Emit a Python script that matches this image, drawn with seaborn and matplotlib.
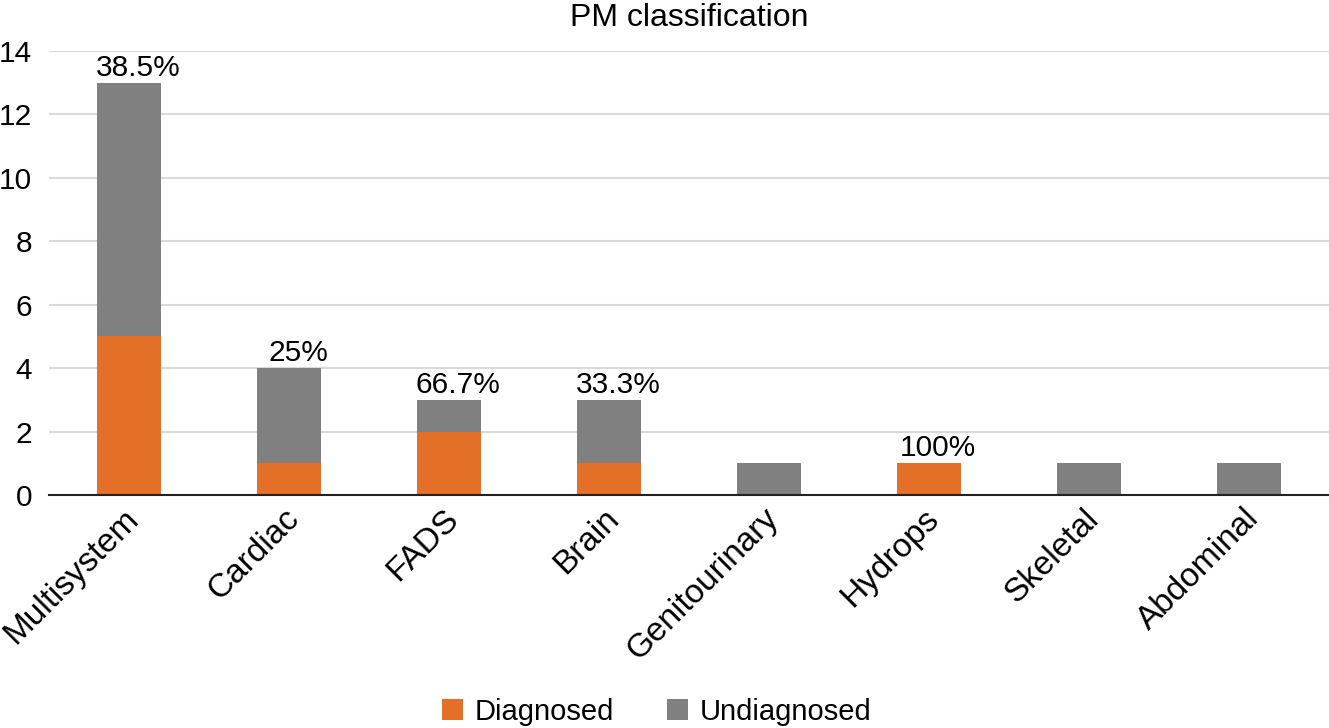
import matplotlib
matplotlib.use("Agg")
import matplotlib.pyplot as plt
import matplotlib.transforms as mtransforms
import seaborn as sns
import pandas as pd
import numpy as np

categories = ["Multisystem", "Cardiac", "FADS", "Brain", "Genitourinary", "Hydrops", "Skeletal", "Abdominal"]
diagnosed = [5, 1, 2, 1, 0, 1, 0, 0]
undiagnosed = [8, 3, 1, 2, 1, 0, 1, 1]
pct_labels = ["38.5%", "25%", "66.7%", "33.3%", "", "100%", "", ""]
yticks = [0, 2, 4, 6, 8, 10, 12, 14]

sns.set_theme(style="white")
plt.rcParams['font.family'] = ['Liberation Sans', 'DejaVu Sans']
plt.rcParams['text.color'] = 'black'

orange = "#E46F27"
gray = "#808080"

df = pd.DataFrame({"category": categories, "Diagnosed": diagnosed, "Undiagnosed": undiagnosed})
df["total"] = df["Diagnosed"] + df["Undiagnosed"]

fig = plt.figure(figsize=(13.29, 7.28), dpi=100)
ax = fig.add_axes([0.0369, 0.32, 0.9631, 0.61])

sns.barplot(data=df, x="category", y="total", color=gray, width=0.4, ax=ax,
            saturation=1, label="Undiagnosed", linewidth=0, edgecolor="none")
sns.barplot(data=df, x="category", y="Diagnosed", color=orange, width=0.4, ax=ax,
            saturation=1, label="Diagnosed", linewidth=0, edgecolor="none")

for i, (t, lab) in enumerate(zip(df["total"], pct_labels)):
    if lab:
        ax.annotate(lab, (i, t), xytext=(6.5, 5), textcoords="offset points",
                    ha="center", va="baseline", fontsize=21.5, color="black")

ax.set_ylim(0, 14)
ax.set_xlim(-0.5, 7.5)
ax.set_yticks(yticks)
ax.yaxis.grid(True, color="#d9d9d9", linewidth=1.5)
ax.set_axisbelow(True)
for s in ["top", "right", "left"]:
    ax.spines[s].set_visible(False)
ax.spines["bottom"].set_color("#222222")
ax.spines["bottom"].set_linewidth(1.5)
ax.tick_params(axis="y", labelsize=21.5, length=0, pad=12, colors="black")
ax.tick_params(axis="x", labelsize=24, length=0, pad=5, colors="black")
offset = mtransforms.ScaledTranslation(-6 / 100, -1 / 100, fig.dpi_scale_trans)
for lbl in ax.get_xticklabels():
    lbl.set_rotation(45)
    lbl.set_ha("right")
    lbl.set_rotation_mode("anchor")
    lbl.set_transform(lbl.get_transform() + offset)
ax.set_xlabel("")
ax.set_ylabel("")
ax.set_title("PM classification", fontsize=23, pad=18, color="black")

handles, labels = ax.get_legend_handles_labels()
order = [labels.index("Diagnosed"), labels.index("Undiagnosed")]
ax.legend([handles[k] for k in order], [labels[k] for k in order],
          loc="center", bbox_to_anchor=(0.494, 0.022), bbox_transform=fig.transFigure,
          ncol=2, frameon=False, fontsize=21, handlelength=0.72, handleheight=0.72,
          columnspacing=1.8, handletextpad=0.41)

fig.savefig("out.png", dpi=100)
